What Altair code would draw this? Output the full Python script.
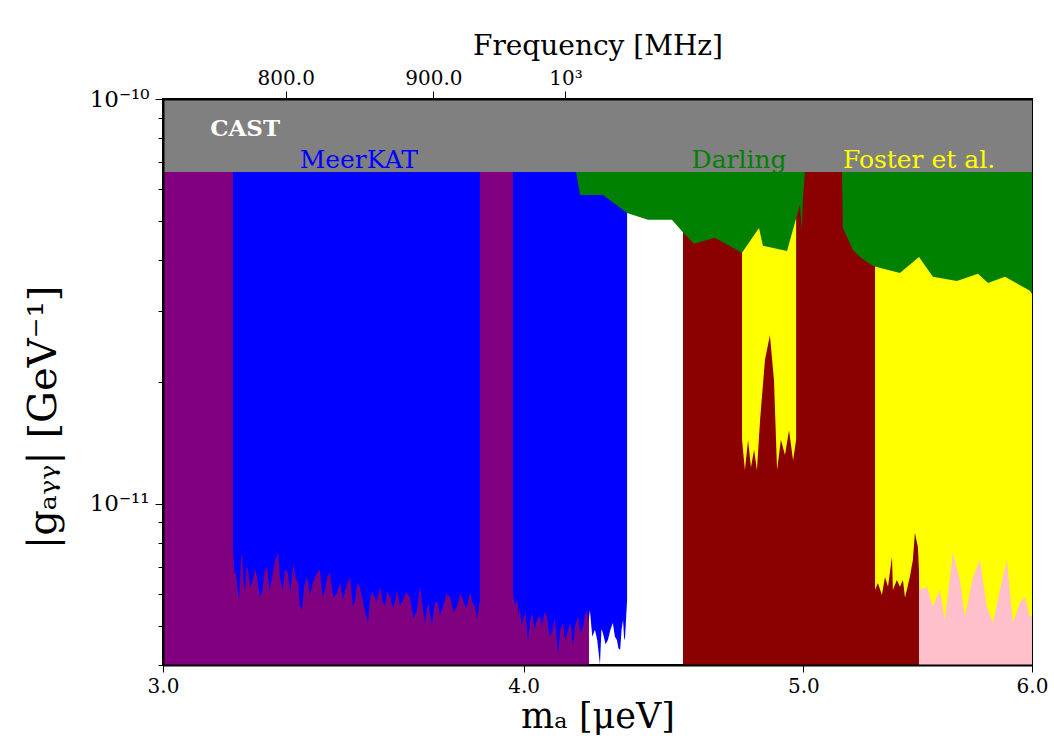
import altair as alt
import pandas as pd

# ---------------- data ----------------
Y_MIN, Y_MAX = 4e-12, 1e-10
CAST_LIMIT = 6.6e-11
X_MIN, X_MAX = 3.0, 6.0

# full-height exclusion bands, m_a in micro-eV
band_lo = [3.0, 4.542, 5.483]
band_hi = [4.214, 5.483, 6.0]
band_color = ["#800080", "#8b0000", "#ffc0cb"]

# MeerKAT (blue), lower edge of the excluded region
meer1_m = [3.172, 3.176, 3.180, 3.184, 3.188, 3.192, 3.195, 3.199, 3.203, 3.207, 3.211, 3.216, 3.221, 3.228,
           3.234, 3.240, 3.247, 3.253, 3.260, 3.266, 3.272, 3.280, 3.288, 3.294, 3.301, 3.307, 3.314, 3.321,
           3.328, 3.334, 3.341, 3.346, 3.352, 3.358, 3.365, 3.373, 3.381, 3.390, 3.400, 3.407, 3.414, 3.420,
           3.427, 3.437, 3.447, 3.455, 3.463, 3.473, 3.483, 3.490, 3.496, 3.503, 3.510, 3.521, 3.533, 3.540,
           3.547, 3.557, 3.567, 3.574, 3.581, 3.588, 3.595, 3.605, 3.616, 3.624, 3.633, 3.643, 3.653, 3.663,
           3.674, 3.683, 3.690, 3.697, 3.707, 3.718, 3.725, 3.733, 3.742, 3.751, 3.761, 3.772, 3.782, 3.793,
           3.802, 3.811, 3.821, 3.832, 3.840, 3.848, 3.853, 3.857, 3.863]
meer1_g = [7.79e-12, 6.70e-12, 6.76e-12, 6.10e-12, 5.79e-12, 7.20e-12, 7.57e-12, 6.40e-12, 6.13e-12, 7.00e-12,
           6.87e-12, 6.20e-12, 6.38e-12, 6.90e-12, 6.60e-12, 5.90e-12, 6.03e-12, 6.80e-12, 6.99e-12, 6.10e-12,
           6.49e-12, 7.20e-12, 7.57e-12, 6.50e-12, 6.13e-12, 6.90e-12, 6.76e-12, 6.00e-12, 7.15e-12, 6.60e-12,
           6.38e-12, 5.60e-12, 5.47e-12, 6.30e-12, 6.60e-12, 5.95e-12, 6.38e-12, 6.70e-12, 6.87e-12, 5.90e-12,
           6.13e-12, 6.60e-12, 6.76e-12, 5.85e-12, 6.03e-12, 6.40e-12, 5.79e-12, 6.30e-12, 6.60e-12, 5.60e-12,
           5.70e-12, 6.35e-12, 6.24e-12, 5.60e-12, 5.08e-12, 5.95e-12, 6.03e-12, 5.70e-12, 6.24e-12, 5.75e-12,
           5.57e-12, 6.10e-12, 5.89e-12, 5.50e-12, 6.13e-12, 5.60e-12, 5.79e-12, 6.05e-12, 5.89e-12, 5.20e-12,
           5.47e-12, 6.24e-12, 5.60e-12, 5.08e-12, 5.70e-12, 4.97e-12, 5.60e-12, 5.79e-12, 5.30e-12, 5.57e-12,
           6.00e-12, 5.89e-12, 5.40e-12, 5.57e-12, 6.00e-12, 5.79e-12, 5.50e-12, 6.03e-12, 5.70e-12, 5.57e-12,
           5.20e-12, 5.38e-12, 5.79e-12]

meer2_m = [3.966, 3.972, 3.979, 3.984, 3.988, 3.993, 3.998, 4.006, 4.014, 4.020, 4.027, 4.035, 4.043, 4.051,
           4.059, 4.067, 4.075, 4.083, 4.091, 4.101, 4.111, 4.119, 4.127, 4.135, 4.144, 4.152, 4.160, 4.168,
           4.177, 4.185, 4.194, 4.200, 4.207, 4.212, 4.217, 4.225, 4.234, 4.242, 4.251, 4.256, 4.261, 4.270,
           4.278, 4.287, 4.295, 4.302, 4.309, 4.314, 4.320, 4.325, 4.330, 4.334, 4.337, 4.341, 4.344]
meer2_g = [6.03e-12, 5.60e-12, 5.79e-12, 5.30e-12, 5.57e-12, 5.00e-12, 5.17e-12, 5.40e-12, 4.54e-12, 5.10e-12,
           5.38e-12, 4.90e-12, 5.17e-12, 5.30e-12, 4.97e-12, 5.40e-12, 5.26e-12, 4.70e-12, 4.80e-12, 5.20e-12,
           4.24e-12, 4.90e-12, 5.08e-12, 4.60e-12, 4.89e-12, 5.10e-12, 4.43e-12, 5.00e-12, 5.26e-12, 4.80e-12,
           4.97e-12, 5.30e-12, 5.47e-12, 5.10e-12, 5.47e-12, 4.70e-12, 4.89e-12, 4.60e-12, 4.00e-12, 4.90e-12,
           4.80e-12, 4.50e-12, 4.61e-12, 4.90e-12, 5.08e-12, 4.70e-12, 4.61e-12, 4.40e-12, 4.36e-12, 4.90e-12,
           5.17e-12, 4.60e-12, 4.69e-12, 5.30e-12, 5.79e-12]

# Darling (green), lower edge of the excluded region below CAST
darl_m = [4.171, 4.184, 4.261, 4.344, 4.417, 4.502, 4.542, 4.582, 4.659, 4.761,
          4.826, 4.841, 4.935, 4.986, 4.994, 4.998, 5.006, 5.156, 5.160, 5.201,
          5.231, 5.285, 5.400, 5.483, 5.544, 5.651, 5.747, 5.793, 5.872, 5.990, 6.0]
darl_g = [6.60e-11, 5.79e-11, 5.79e-11, 5.23e-11, 5.03e-11, 5.03e-11, 4.69e-11, 4.39e-11, 4.54e-11, 4.17e-11,
          4.80e-11, 4.34e-11, 4.21e-11, 5.48e-11, 4.75e-11, 5.63e-11, 6.60e-11, 6.60e-11, 4.80e-11, 4.24e-11,
          4.07e-11, 3.87e-11, 3.72e-11, 4.07e-11, 3.64e-11, 3.55e-11, 3.70e-11, 3.51e-11, 3.64e-11, 3.36e-11, 3.30e-11]

# Foster et al. (yellow), lower edge
fost1_m = [4.761, 4.772, 4.784, 4.795, 4.807, 4.818, 4.830, 4.849, 4.868, 4.884,
           4.896, 4.911, 4.927, 4.943, 4.959, 4.971]
fost1_g = [1.44e-11, 1.21e-11, 1.44e-11, 1.23e-11, 1.36e-11, 1.21e-11, 1.61e-11, 2.27e-11, 2.61e-11, 2.02e-11,
           1.21e-11, 1.44e-11, 1.32e-11, 1.52e-11, 1.28e-11, 1.44e-11]

fost2_m = [5.294, 5.306, 5.323, 5.336, 5.349, 5.366, 5.370, 5.387, 5.400, 5.413,
           5.422, 5.443, 5.456, 5.465, 5.478, 5.487, 5.518, 5.544, 5.575, 5.597,
           5.633, 5.665, 5.687, 5.724, 5.756, 5.788, 5.816, 5.848, 5.881, 5.909,
           5.942, 5.966, 5.990, 6.0]
fost2_g = [6.13e-12, 6.38e-12, 5.96e-12, 6.60e-12, 6.24e-12, 7.40e-12, 6.13e-12, 6.49e-12, 6.24e-12, 6.49e-12,
           5.86e-12, 6.60e-12, 7.27e-12, 8.48e-12, 7.83e-12, 6.13e-12, 6.24e-12, 5.57e-12, 6.13e-12, 5.17e-12,
           7.57e-12, 6.49e-12, 5.26e-12, 6.60e-12, 7.27e-12, 5.57e-12, 5.08e-12, 6.13e-12, 7.27e-12, 5.08e-12,
           5.70e-12, 5.89e-12, 5.26e-12, 5.30e-12]

# top axis: frequency ticks (MHz) -> m_a = f / 241.799
freq_ticks = [800.0, 900.0, 1000.0]
freq_labels = ["800.0", "900.0", "10³"]
MHZ_PER_UEV = 241.799

# annotations
label_text = ["MeerKAT", "Darling", "Foster et al."]
label_m = [3.507, 4.750, 5.483]
label_g = [6.76e-11, 6.76e-11, 6.76e-11]
label_color = ["#0000ff", "#008000", "#ffff00"]
cast_text_m, cast_text_g = 3.115, 8.10e-11

# ---------------- chart ----------------
FONT = "DejaVu Serif"
xs = alt.Scale(type="log", domain=[X_MIN, X_MAX], nice=False, zero=False)
ys = alt.Scale(type="log", domain=[Y_MIN, Y_MAX], nice=False, zero=False)

bands = pd.DataFrame({"lo": band_lo, "hi": band_hi, "color": band_color,
                      "bottom": Y_MIN, "top": CAST_LIMIT})

y_ticks = [4e-12, 5e-12, 6e-12, 7e-12, 8e-12, 9e-12, 1e-11,
           2e-11, 3e-11, 4e-11, 5e-11, 6e-11, 7e-11, 8e-11, 9e-11, 1e-10]
is_major = "abs(log(datum.value)/LN10 - round(log(datum.value)/LN10)) < 0.01"

bottom_axis = alt.Axis(values=[3.0, 4.0, 5.0, 6.0], format=".1f", title="mₐ [μeV]",
                       orient="bottom", tickSize=7, tickColor="black", domainColor="black",
                       domainWidth=2, labelFont=FONT, labelFontSize=20, labelColor="black",
                       labelPadding=4, titleFont=FONT, titleFontSize=35, titleFontWeight="normal",
                       titleColor="black", titlePadding=3, grid=False, labelFlush=False, zindex=1)
left_axis = alt.Axis(values=y_ticks, title="|gₐᵧᵧ| [GeV⁻¹]", orient="left",
                     labelExpr=f"({is_major}) ? (round(log(datum.value)/LN10) == -10 ? '10⁻¹⁰' : '10⁻¹¹') : ''",
                     tickSize={"condition": {"test": is_major, "value": 8}, "value": 5},
                     tickColor="black", domainColor="black", domainWidth=2,
                     labelFont=FONT, labelFontSize=23, labelColor="black", labelPadding=6,
                     titleFont=FONT, titleFontSize=40, titleFontWeight="normal", titleColor="black",
                     titleY=318, titleX=-120, titleBaseline="middle", grid=False, labelFlush=False,
                     zindex=1)
top_axis = alt.Axis(values=[f / MHZ_PER_UEV for f in freq_ticks], orient="top",
                    labelExpr="datum.value < 3.5 ? '800.0' : (datum.value < 3.9 ? '900.0' : '10³')",
                    title="Frequency [MHz]", tickSize=8, tickColor="black", domainColor="black",
                    domainWidth=2, labelFont=FONT, labelFontSize=20, labelColor="black", labelPadding=3,
                    titleFont=FONT, titleFontSize=28, titleFontWeight="normal", titleColor="black",
                    titlePadding=8, grid=False, labelFlush=False, zindex=1)

band_layer = alt.Chart(bands).mark_rect().encode(
    x=alt.X("lo:Q", scale=xs, axis=bottom_axis),
    x2="hi:Q",
    y=alt.Y("bottom:Q", scale=ys, axis=left_axis),
    y2="top:Q",
    color=alt.Color("color:N", scale=None),
)


def edge_area(ms, gs, color):
    df = pd.DataFrame({"m": ms, "g": gs, "top": CAST_LIMIT})
    return alt.Chart(df).mark_area(color=color, interpolate="linear", orient="vertical").encode(
        x=alt.X("m:Q", scale=xs, axis=None),
        y=alt.Y("g:Q", scale=ys, axis=None),
        y2="top:Q",
    )


meer1 = edge_area(meer1_m, meer1_g, "#0000ff")
meer2 = edge_area(meer2_m, meer2_g, "#0000ff")
fost1 = edge_area(fost1_m, fost1_g, "#ffff00")
fost2 = edge_area(fost2_m, fost2_g, "#ffff00")
darl = edge_area(darl_m, darl_g, "#008000")

cast_df = pd.DataFrame({"lo": [X_MIN], "hi": [X_MAX], "bottom": [CAST_LIMIT], "top": [Y_MAX]})
cast_layer = alt.Chart(cast_df).mark_rect(color="#808080").encode(
    x=alt.X("lo:Q", scale=xs, axis=top_axis),
    x2="hi:Q",
    y=alt.Y("bottom:Q", scale=ys, axis=None),
    y2="top:Q",
)

lab_df = pd.DataFrame({"t": label_text, "m": label_m, "g": label_g, "c": label_color})
labels = alt.Chart(lab_df).mark_text(font=FONT, fontSize=25, baseline="alphabetic", align="center").encode(
    x=alt.X("m:Q", scale=xs, axis=None),
    y=alt.Y("g:Q", scale=ys, axis=None),
    text="t:N",
    color=alt.Color("c:N", scale=None),
)
cast_lab = alt.Chart(pd.DataFrame({"t": ["CAST"], "m": [cast_text_m], "g": [cast_text_g]})).mark_text(
    font=FONT, fontSize=23, fontWeight="bold", color="white", align="left", baseline="alphabetic"
).encode(
    x=alt.X("m:Q", scale=xs, axis=None),
    y=alt.Y("g:Q", scale=ys, axis=None),
    text="t:N",
)

chart = alt.layer(band_layer, meer1, meer2, fost1, fost2, darl, cast_layer, labels, cast_lab).resolve_axis(
    x="independent", y="independent"
).properties(
    width=869, height=566,
    autosize=alt.AutoSizeParams(type="none"),
    padding={"left": 163, "top": 99, "right": 22, "bottom": 84},
    background="white",
).configure_view(stroke="black", strokeWidth=2)

chart.save("out.html", embed_options={"renderer": "svg", "actions": False})
